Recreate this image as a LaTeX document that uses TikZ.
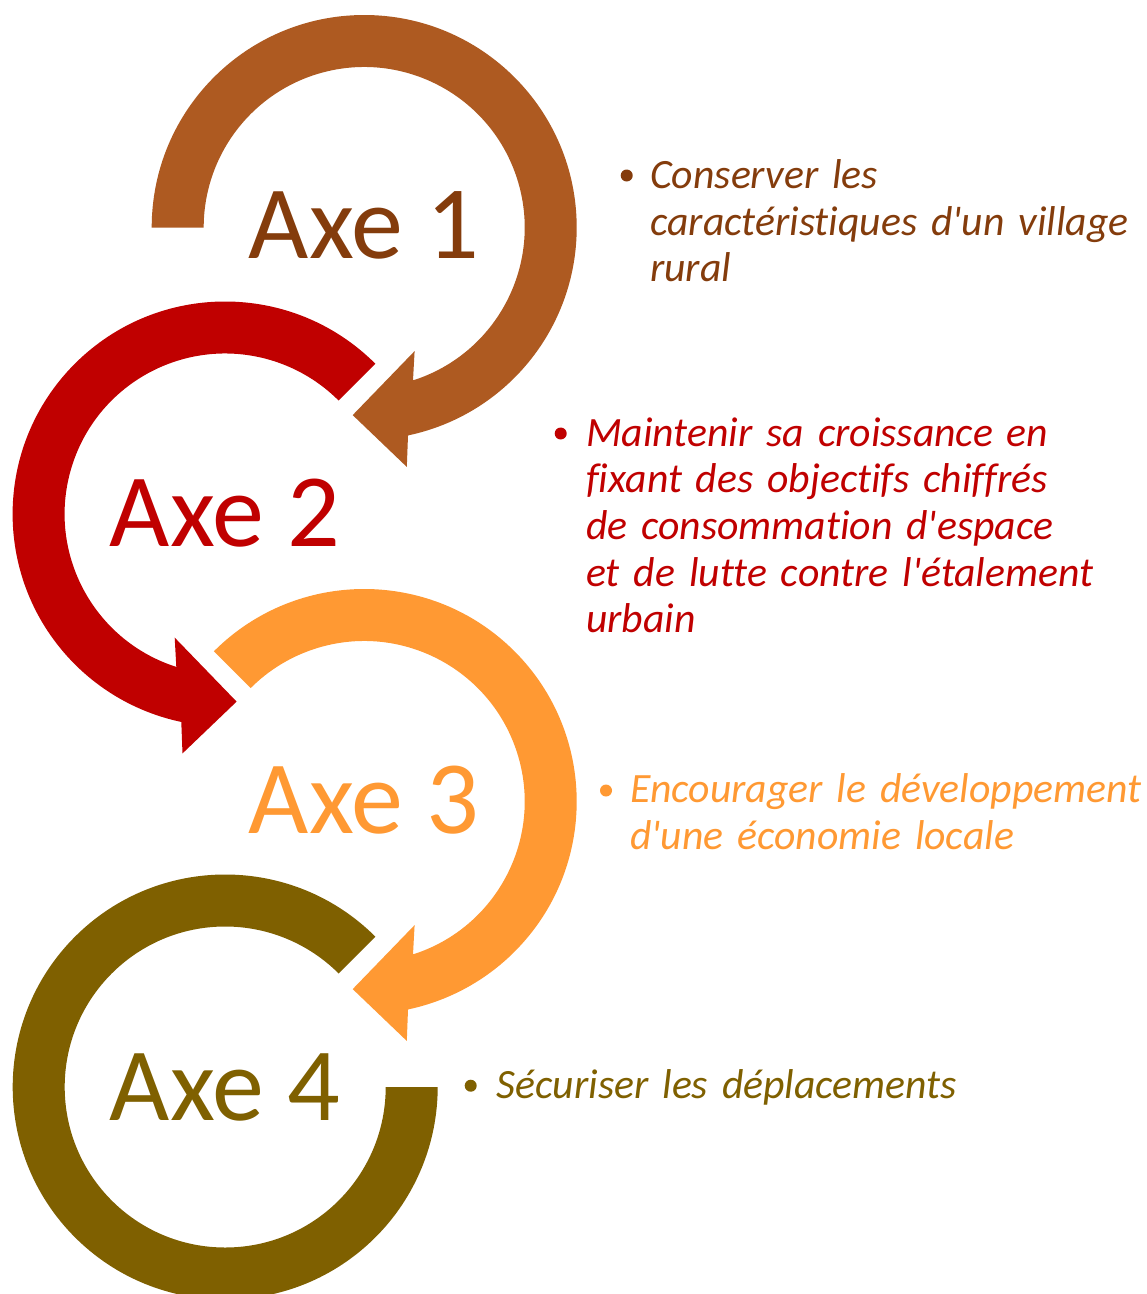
\documentclass[tikz,border=0pt]{standalone}
\usepackage{fontspec}
\setmainfont{Carlito}[Ligatures={TeXOff,NoCommon}]
\definecolor{arrowA}{HTML}{AE5A21}
\definecolor{textA}{HTML}{843C0C}
\definecolor{colB}{HTML}{C00000}
\definecolor{colC}{HTML}{FF9933}
\definecolor{colD}{HTML}{7F6000}
\begin{document}
\begin{tikzpicture}[x=1pt,y=1pt,yscale=-1,
  axe/.style={anchor=base, inner sep=0pt, font=\fontsize{104}{120}\selectfont},
  item/.style={anchor=base west, inner sep=0pt, text width=560pt, align=left,
               font=\fontsize{41.7}{46.7}\selectfont\itshape},
  bulletdot/.style={circle, inner sep=0pt, minimum size=12pt}]
\useasboundingbox (0,0) rectangle (1147,1294);
\fill[white] (0,0) rectangle (1147,1294);

% Arrow 1 (clockwise)
\begin{scope}[shift={(364.2,227.5)}]
\fill[arrowA] (180:212.5) arc[start angle=180,end angle=438.1,radius=212.5]
  -- (42.6,239.4) -- (-11.5,187.6) -- (50.4,123.6) -- (432.3:160.5)
  arc[start angle=432.3,end angle=180,radius=160.5] -- cycle;
\end{scope}

% Arrow 2 (counter-clockwise)
\begin{scope}[shift={(225.1,514)}]
\fill[colB] (315:212.5) arc[start angle=315,end angle=101.9,radius=212.5]
  -- (-42.6,239.4) -- (11.5,187.6) -- (-50.4,123.6) -- (107.7:160.5)
  arc[start angle=107.7,end angle=315,radius=160.5] -- cycle;
\end{scope}

% Arrow 3 (clockwise)
\begin{scope}[shift={(364.2,801.5)}]
\fill[colC] (225:212.5) arc[start angle=225,end angle=438.1,radius=212.5]
  -- (42.6,239.4) -- (-11.5,187.6) -- (50.4,123.6) -- (432.3:160.5)
  arc[start angle=432.3,end angle=225,radius=160.5] -- cycle;
\end{scope}

% Arc 4 (no head)
\begin{scope}[shift={(225.2,1087)}]
\fill[colD] (315:212.5) arc[start angle=315,end angle=0,radius=212.5]
  -- (0:160.5) arc[start angle=0,end angle=315,radius=160.5] -- cycle;
\end{scope}

% Axe labels
\node[axe, text=textA] (axe1) at (364.2,258.3) {Axe 1};
\node[axe, text=colB]  (axe2) at (225.1,546.7) {Axe 2};
\node[axe, text=colC]  (axe3) at (364.2,833.3) {Axe 3};
\node[axe, text=colD]  (axe4) at (225.2,1120) {Axe 4};

% Bullets
\node[bulletdot, fill=textA] (b1) at (626.7,175.5) {};
\node[bulletdot, fill=colB]  (b2) at (560.7,433.5) {};
\node[bulletdot, fill=colC]  (b3) at (606,790.5) {};
\node[bulletdot, fill=colD]  (b4) at (470.7,1085.7) {};

% Items
\node[item, text=textA] (t1) at (650,188.3)
  {Conserver les\\caractéristiques d'un village\\rural};
\node[item, text=colB] (t2) at (586,446)
  {Maintenir sa croissance en\\fixant des objectifs chiffrés\\de consommation d'espace\\et de lutte contre l'étalement\\urbain};
\node[item, text=colC] (t3) at (630,802.7)
  {Encourager le développement\\d'une économie locale};
\node[item, text=colD] (t4) at (496.5,1098.3)
  {Sécuriser les déplacements};
\end{tikzpicture}
\end{document}
